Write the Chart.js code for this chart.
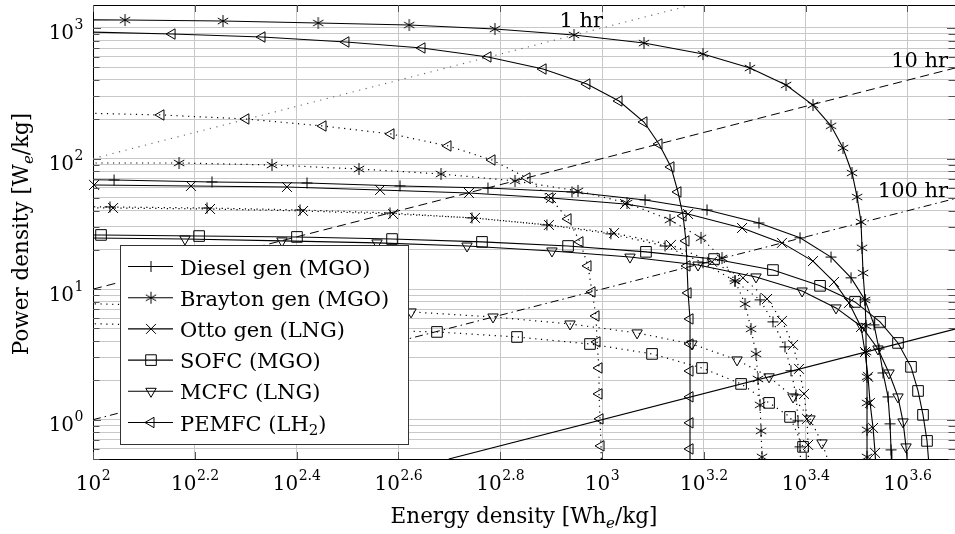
<!DOCTYPE html>
<html>
<head>
<meta charset="utf-8">
<script src="https://cdn.jsdelivr.net/npm/chart.js@4.4.1/dist/chart.umd.min.js"></script>
<style>
html,body{margin:0;padding:0;background:#fff;overflow:hidden;}
canvas{display:block;}
</style>
</head>
<body>
<canvas id="c" width="955" height="534"></canvas>
<script>
// ---------- axes ----------
const xMin = 100, xMax = 4937, yMin = 0.5, yMax = 1500;
const xTickValues = [100, 158.489, 251.189, 398.107, 630.957, 1000, 1584.89, 2511.89, 3981.07];
const xTickExps   = ['2', '2.2', '2.4', '2.6', '2.8', '3', '3.2', '3.4', '3.6'];
const yMajorValues = [1, 10, 100, 1000];
const yMajorExps   = ['0', '1', '2', '3'];
const yMinorValues = [0.5,0.6,0.7,0.8,0.9,2,3,4,5,6,7,8,9,20,30,40,50,60,70,80,90,200,300,400,500,600,700,800,900];
const xTitle = 'Energy density [Whₑ/kg]';
const yTitle = 'Power density [Wₑ/kg]';

// ---------- series (energy density Wh/kg, power density W/kg) ----------
const legendLabels = ['Diesel gen (MGO)', 'Brayton gen (MGO)', 'Otto gen (LNG)', 'SOFC (MGO)', 'MCFC (LNG)', 'PEMFC (LH₂)'];

const dieselSolidE = [72, 110, 171.3, 263.3, 401, 597, 873, 1215, 1608, 2034, 2449, 2818, 3085, 3286, 3423, 3501, 3565, 3647, 3680, 3697, 3710];
const dieselSolidP = [69.8, 68.5, 66.2, 65.0, 61.7, 59.5, 55.5, 48.2, 40.4, 32.1, 24.7, 17.6, 12.2, 8.27, 5.32, 3.48, 2.28, 1.494, 0.929, 0.587, 0.37];

const braytonSolidE = [75, 115.6, 180, 277, 418, 616, 881, 1209, 1579, 1953, 2299, 2597, 2818, 2975, 3099, 3170, 3227, 3242, 3257, 3286, 3301, 3301, 3316, 3316, 3316, 3316, 3316];
const braytonSolidP = [1161, 1151, 1131, 1092, 1054, 982, 884, 767, 632, 494, 366, 257, 178, 120.5, 77.6, 50.8, 32.7, 20.7, 13.3, 8.26, 5.22, 3.30, 2.13, 1.345, 0.836, 0.519, 0.33];

const ottoSolidE = [100.5, 155.8, 240.5, 366.4, 547.8, 793.7, 1110, 1476, 1884, 2257, 2597, 2856, 3057, 3227, 3286, 3331, 3362, 3408, 3439, 3460];
const ottoSolidP = [62.8, 61.7, 60.6, 57.5, 54.5, 49.9, 44.9, 37.6, 29.4, 22.6, 16.4, 11.35, 7.84, 5.13, 3.30, 2.13, 1.345, 0.865, 0.557, 0.36];

const sofcSolidE = [66.6, 103.7, 161.6, 251.6, 386.8, 581, 857.6, 1220, 1660, 2167, 2681, 3141, 3517, 3815, 4046, 4177, 4272, 4350, 4390];
const sofcSolidP = [26.0, 26.0, 25.5, 25.1, 24.2, 23.0, 21.4, 19.3, 17.0, 14.0, 10.6, 7.98, 5.61, 3.87, 2.54, 1.66, 1.089, 0.688, 0.443];

const mcfcSolidE = [94.3, 151.6, 235.1, 361.4, 543, 797.4, 1135, 1544, 2007, 2472, 2882, 3242, 3485, 3663, 3815, 3903, 3956, 3993];
const mcfcSolidP = [24.7, 24.2, 23.4, 22.6, 21.4, 19.6, 17.6, 15.3, 12.4, 9.68, 7.18, 5.13, 3.48, 2.28, 1.494, 0.962, 0.619, 0.398];

const pemfcSolidE = [95.1, 143, 214.8, 314, 443, 597, 766, 934, 1080, 1209, 1294, 1366, 1410, 1443, 1462, 1469, 1476, 1489, 1489, 1489, 1489, 1489, 1489, 1489];
const pemfcSolidP = [935, 899, 853, 781, 703, 600, 485, 372, 276, 190.5, 129.3, 86.2, 55.5, 36.4, 23.4, 15.06, 9.35, 5.91, 3.80, 2.36, 1.496, 0.946, 0.597, 0.38];

const dieselDotE = [69.6, 108.0, 167.5, 255.1, 383.3, 555.3, 779.4, 1041, 1330, 1579, 1825, 2044, 2167, 2288, 2351, 2405, 2427, 2449, 2460];
const dieselDotP = [43.4, 42.6, 41.8, 40.4, 38.3, 35.1, 31.0, 26.5, 21.4, 15.9, 11.55, 8.27, 5.61, 3.61, 2.37, 1.548, 0.979, 0.619, 0.39];

const braytonDotE = [96.0, 147.6, 224.7, 333.1, 482.7, 674.7, 897, 1120, 1360, 1565, 1721, 1825, 1910, 1962, 2007, 2025, 2044, 2053, 2062, 2068];
const braytonDotP = [92.5, 92.5, 89.3, 83.2, 76.2, 67.4, 56.5, 45.7, 33.9, 24.7, 17.3, 11.55, 7.70, 4.96, 3.19, 2.05, 1.298, 0.821, 0.519, 0.33];

const ottoDotE = [70.6, 109.5, 169.8, 258.6, 388.6, 562.9, 786.5, 1056, 1366, 1645, 1892, 2110, 2257, 2373, 2438, 2494, 2528, 2540, 2550];
const ottoDotP = [42.6, 41.8, 41.1, 39.7, 37.6, 35.1, 31.0, 26.9, 21.8, 16.2, 12.2, 8.41, 5.71, 3.74, 2.45, 1.575, 1.014, 0.641, 0.41];

const sofcDotE = [86.1, 474.0, 680.8, 947.1, 1254, 1572, 1876, 2129, 2341, 2483, 2585];
const sofcDotP = [5.51, 4.70, 4.30, 3.80, 3.19, 2.49, 1.879, 1.345, 1.050, 0.619, 0.413];

const mcfcDotE = [86.1, 421.5, 610.8, 865.3, 1172, 1502, 1842, 2129, 2373, 2562, 2705, 2805];
const mcfcDotP = [7.84, 6.69, 6.12, 5.41, 4.62, 3.80, 2.87, 2.13, 1.494, 1.014, 0.664, 0.443];

const pemfcDotE = [93.4, 136.0, 199.7, 283.1, 385.0, 498.2, 608.0, 712.3, 790.1, 857.6, 905.2, 938.6, 955.8, 973.2, 977.7, 986.5, 986.5, 991.0, 995.5, 998];
const pemfcDotP = [223.4, 215.7, 201.0, 177.6, 154.3, 124.9, 97.5, 71.0, 49.9, 34.5, 23.0, 15.06, 9.52, 6.23, 3.94, 2.49, 1.575, 1.014, 0.630, 0.40];

// constant-duration reference lines (1 hr, 10 hr, 100 hr, 1000 hr)
const hourLineE = [[100, 1500], [100, 4937], [100, 4937], [500, 4937]];
const hourLineP = [[100, 1500], [10, 493.7], [1, 49.37], [0.5, 4.937]];
const hourLabels = ['1 hr', '10 hr', '100 hr'];
const hourLabelE = [1005, 4785, 4785];
const hourLabelP = [1017, 503, 50.8];

// ---------- helpers ----------
const FONT = '"DejaVu Serif", serif';
function fnt(size, italic){ return (italic ? 'italic ' : '') + size + 'px ' + FONT; }
function pts(E, P){ return E.map((e, i) => ({x: e, y: P[i]})); }

function makeAsterisk(r, lw){
  const s = 2 * Math.ceil(r) + 2;
  const c = document.createElement('canvas'); c.width = s; c.height = s;
  const g = c.getContext('2d');
  g.strokeStyle = '#000'; g.lineWidth = lw; g.translate(s/2, s/2);
  for (let k = 0; k < 3; k++){
    const a = Math.PI/2 + k*Math.PI/3;
    g.beginPath(); g.moveTo(-r*Math.cos(a), -r*Math.sin(a)); g.lineTo(r*Math.cos(a), r*Math.sin(a)); g.stroke();
  }
  return c;
}
const asterisk = makeAsterisk(6, 1);

const markStyles = [
  {pointStyle: 'cross', pointRadius: 5.5, pointRotation: 0},
  {pointStyle: asterisk, pointRadius: 6, pointRotation: 0},
  {pointStyle: 'crossRot', pointRadius: 7, pointRotation: 0},
  {pointStyle: 'rect', pointRadius: 7.5, pointRotation: 0},
  {pointStyle: 'triangle', pointRadius: 6, pointRotation: 180},
  {pointStyle: 'triangle', pointRadius: 6, pointRotation: 270}
];
const solidSeries = [[dieselSolidE, dieselSolidP],[braytonSolidE, braytonSolidP],[ottoSolidE, ottoSolidP],[sofcSolidE, sofcSolidP],[mcfcSolidE, mcfcSolidP],[pemfcSolidE, pemfcSolidP]];
const dotSeries = [[dieselDotE, dieselDotP],[braytonDotE, braytonDotP],[ottoDotE, ottoDotP],[sofcDotE, sofcDotP],[mcfcDotE, mcfcDotP],[pemfcDotE, pemfcDotP]];

const datasets = [];
solidSeries.forEach((s, i) => {
  datasets.push(Object.assign({
    label: legendLabels[i], data: pts(s[0], s[1]),
    borderColor: '#000', borderWidth: 1.1, borderDash: [],
    pointBorderColor: '#000', pointBackgroundColor: 'rgba(0,0,0,0)', pointBorderWidth: 1,
    tension: 0, clip: (i === 2 ? {left: 8, top: 0, right: 0, bottom: 0} : 0)
  }, markStyles[i]));
});
dotSeries.forEach((s, i) => {
  datasets.push(Object.assign({
    label: legendLabels[i] + ' (alt)', data: pts(s[0], s[1]),
    borderColor: '#000', borderWidth: 1.2, borderDash: [1.2, 4.6],
    pointBorderColor: '#000', pointBackgroundColor: 'rgba(0,0,0,0)', pointBorderWidth: 1,
    tension: 0, clip: 0
  }, markStyles[i]));
});
const hourStyles = [
  {borderColor: '#666', borderWidth: 1.1, borderDash: [1.2, 5.5]},
  {borderColor: '#000', borderWidth: 1, borderDash: [9, 5]},
  {borderColor: '#000', borderWidth: 1, borderDash: [8, 4, 1.5, 4]},
  {borderColor: '#000', borderWidth: 1.1, borderDash: []}
];
hourLineE.forEach((E, i) => {
  datasets.push(Object.assign({label: 'hr' + i, data: pts(E, hourLineP[i]), pointRadius: 0, tension: 0, clip: 0}, hourStyles[i]));
});

// ---------- rich text ----------
const subMap = {'ₑ': ['e', true], '₂': ['2', false]};
function parseRich(str){
  const parts = []; let cur = '';
  for (const ch of str){
    if (subMap[ch]){ if (cur) parts.push({t: cur}); cur = ''; parts.push({t: subMap[ch][0], sub: true, it: subMap[ch][1]}); }
    else cur += ch;
  }
  if (cur) parts.push({t: cur});
  return parts;
}
function richWidths(ctx, parts, size){
  return parts.map(p => { ctx.font = p.sub ? fnt(Math.round(size*0.7), p.it) : fnt(size); return ctx.measureText(p.t).width; });
}
function drawRich(ctx, str, x, y, size, align){
  const parts = parseRich(str);
  const w = richWidths(ctx, parts, size);
  const total = w.reduce((a, b) => a + b, 0);
  let cx = align === 'center' ? x - total/2 : (align === 'right' ? x - total : x);
  ctx.textAlign = 'left'; ctx.textBaseline = 'alphabetic';
  parts.forEach((p, i) => {
    ctx.font = p.sub ? fnt(Math.round(size*0.7), p.it) : fnt(size);
    ctx.fillText(p.t, cx, p.sub ? y + size*0.22 : y);
    cx += w[i];
  });
}
function drawPow(ctx, exp, x, y, align){
  ctx.font = fnt(20); const w1 = ctx.measureText('10').width;
  ctx.font = fnt(14); const w2 = ctx.measureText(exp).width;
  const x0 = align === 'center' ? x - (w1 + w2)/2 : x - (w1 + w2);
  ctx.textAlign = 'left'; ctx.textBaseline = 'alphabetic';
  ctx.font = fnt(20); ctx.fillText('10', x0, y);
  ctx.font = fnt(14); ctx.fillText(exp, x0 + w1 + 0.5, y - 10);
}
function drawMarker(ctx, style, r, rotDeg, x, y){
  ctx.save(); ctx.translate(x, y); ctx.rotate((rotDeg || 0) * Math.PI/180);
  ctx.strokeStyle = '#000'; ctx.lineWidth = 1; ctx.setLineDash([]);
  if (typeof style !== 'string'){ ctx.drawImage(style, -style.width/2, -style.height/2); ctx.restore(); return; }
  ctx.beginPath();
  if (style === 'cross'){ ctx.moveTo(-r,0); ctx.lineTo(r,0); ctx.moveTo(0,-r); ctx.lineTo(0,r); }
  else if (style === 'crossRot'){ const d = r*Math.SQRT1_2; ctx.moveTo(-d,-d); ctx.lineTo(d,d); ctx.moveTo(-d,d); ctx.lineTo(d,-d); }
  else if (style === 'rect'){ const s = r*Math.SQRT1_2; ctx.rect(-s,-s,2*s,2*s); }
  else if (style === 'triangle'){ for (let k = 0; k < 3; k++){ const a = k*2*Math.PI/3; const px = Math.sin(a)*r, py = -Math.cos(a)*r; if (k) ctx.lineTo(px,py); else ctx.moveTo(px,py); } ctx.closePath(); }
  ctx.stroke(); ctx.restore();
}

// ---------- decorations plugin ----------
const decor = {
  id: 'decor',
  afterDraw(chart){
    const ctx = chart.ctx, a = chart.chartArea, xs = chart.scales.x, ys = chart.scales.y;
    ctx.save();
    // top frame
    ctx.strokeStyle = '#000'; ctx.lineWidth = 1; ctx.setLineDash([]);
    ctx.beginPath(); ctx.moveTo(a.left, a.top + 0.5); ctx.lineTo(a.right, a.top + 0.5); ctx.stroke();
    // inward ticks
    ctx.strokeStyle = '#555';
    ctx.beginPath();
    xTickValues.forEach(v => {
      const px = Math.round(xs.getPixelForValue(v)) + 0.5;
      ctx.moveTo(px, a.bottom); ctx.lineTo(px, a.bottom - 7);
      ctx.moveTo(px, a.top); ctx.lineTo(px, a.top + 7);
    });
    yMajorValues.forEach(v => {
      const py = Math.round(ys.getPixelForValue(v)) + 0.5;
      ctx.moveTo(a.left, py); ctx.lineTo(a.left + 8, py);
      ctx.moveTo(a.right, py); ctx.lineTo(a.right - 8, py);
    });
    yMinorValues.forEach(v => {
      const py = Math.round(ys.getPixelForValue(v)) + 0.5;
      ctx.moveTo(a.left, py); ctx.lineTo(a.left + 6.5, py);
      ctx.moveTo(a.right, py); ctx.lineTo(a.right - 6.5, py);
    });
    ctx.stroke();

    // tick labels
    ctx.fillStyle = '#000';
    xTickValues.forEach((v, i) => drawPow(ctx, xTickExps[i], xs.getPixelForValue(v), a.bottom + 31, 'center'));
    yMajorValues.forEach((v, i) => drawPow(ctx, yMajorExps[i], a.left - 10, ys.getPixelForValue(v) + 11.4, 'right'));

    // axis titles
    drawRich(ctx, xTitle, (a.left + a.right)/2, 523, 21.5, 'center');
    ctx.save(); ctx.translate(28, 234); ctx.rotate(-Math.PI/2);
    drawRich(ctx, yTitle, 0, 0, 21.5, 'center');
    ctx.restore();

    // duration labels
    hourLabels.forEach((t, i) => {
      ctx.font = fnt(21); ctx.textAlign = 'right'; ctx.textBaseline = 'alphabetic';
      ctx.fillText(t, xs.getPixelForValue(hourLabelE[i]), ys.getPixelForValue(hourLabelP[i]));
    });

    // legend
    const L = 120.5, T = 245.5, W = 288, H = 199, rowH = 31.2, first = 266.5;
    ctx.fillStyle = '#fff'; ctx.fillRect(L, T, W, H);
    ctx.strokeStyle = '#333'; ctx.lineWidth = 1; ctx.strokeRect(L, T, W, H);
    legendLabels.forEach((lab, i) => {
      const cy = first + i*rowH;
      ctx.strokeStyle = '#000'; ctx.lineWidth = 1.1; ctx.setLineDash([]);
      ctx.beginPath(); ctx.moveTo(128, cy); ctx.lineTo(173, cy); ctx.stroke();
      const m = markStyles[i];
      drawMarker(ctx, m.pointStyle, m.pointRadius, m.pointRotation, 151, cy);
      ctx.fillStyle = '#000';
      drawRich(ctx, lab, 180, cy + 8, 21, 'left');
    });
    ctx.restore();
  }
};

new Chart(document.getElementById('c'), {
  type: 'line',
  data: {datasets: datasets},
  options: {
    responsive: false, devicePixelRatio: 1, animation: false, events: [],
    layout: {autoPadding: false, padding: {left: 0, right: 0, top: 5, bottom: 0}},
    plugins: {legend: {display: false}, tooltip: {enabled: false}, title: {display: false}},
    scales: {
      x: {
        type: 'logarithmic', min: xMin, max: xMax,
        afterBuildTicks: s => { s.ticks = xTickValues.map(v => ({value: v})); },
        afterFit: s => { s.height = 75; },
        ticks: {display: false},
        grid: {color: '#c8c8c8', lineWidth: 1, drawTicks: false},
        border: {display: true, color: '#000', width: 1}
      },
      y: {
        type: 'logarithmic', min: yMin, max: yMax,
        afterBuildTicks: s => { s.ticks = yMinorValues.concat(yMajorValues).sort((p, q) => p - q).map(v => ({value: v})); },
        afterFit: s => { s.width = 93; },
        ticks: {display: false},
        grid: {color: '#c8c8c8', lineWidth: 1, drawTicks: false},
        border: {display: true, color: '#000', width: 1}
      }
    }
  },
  plugins: [decor]
});
</script>
</body>
</html>
